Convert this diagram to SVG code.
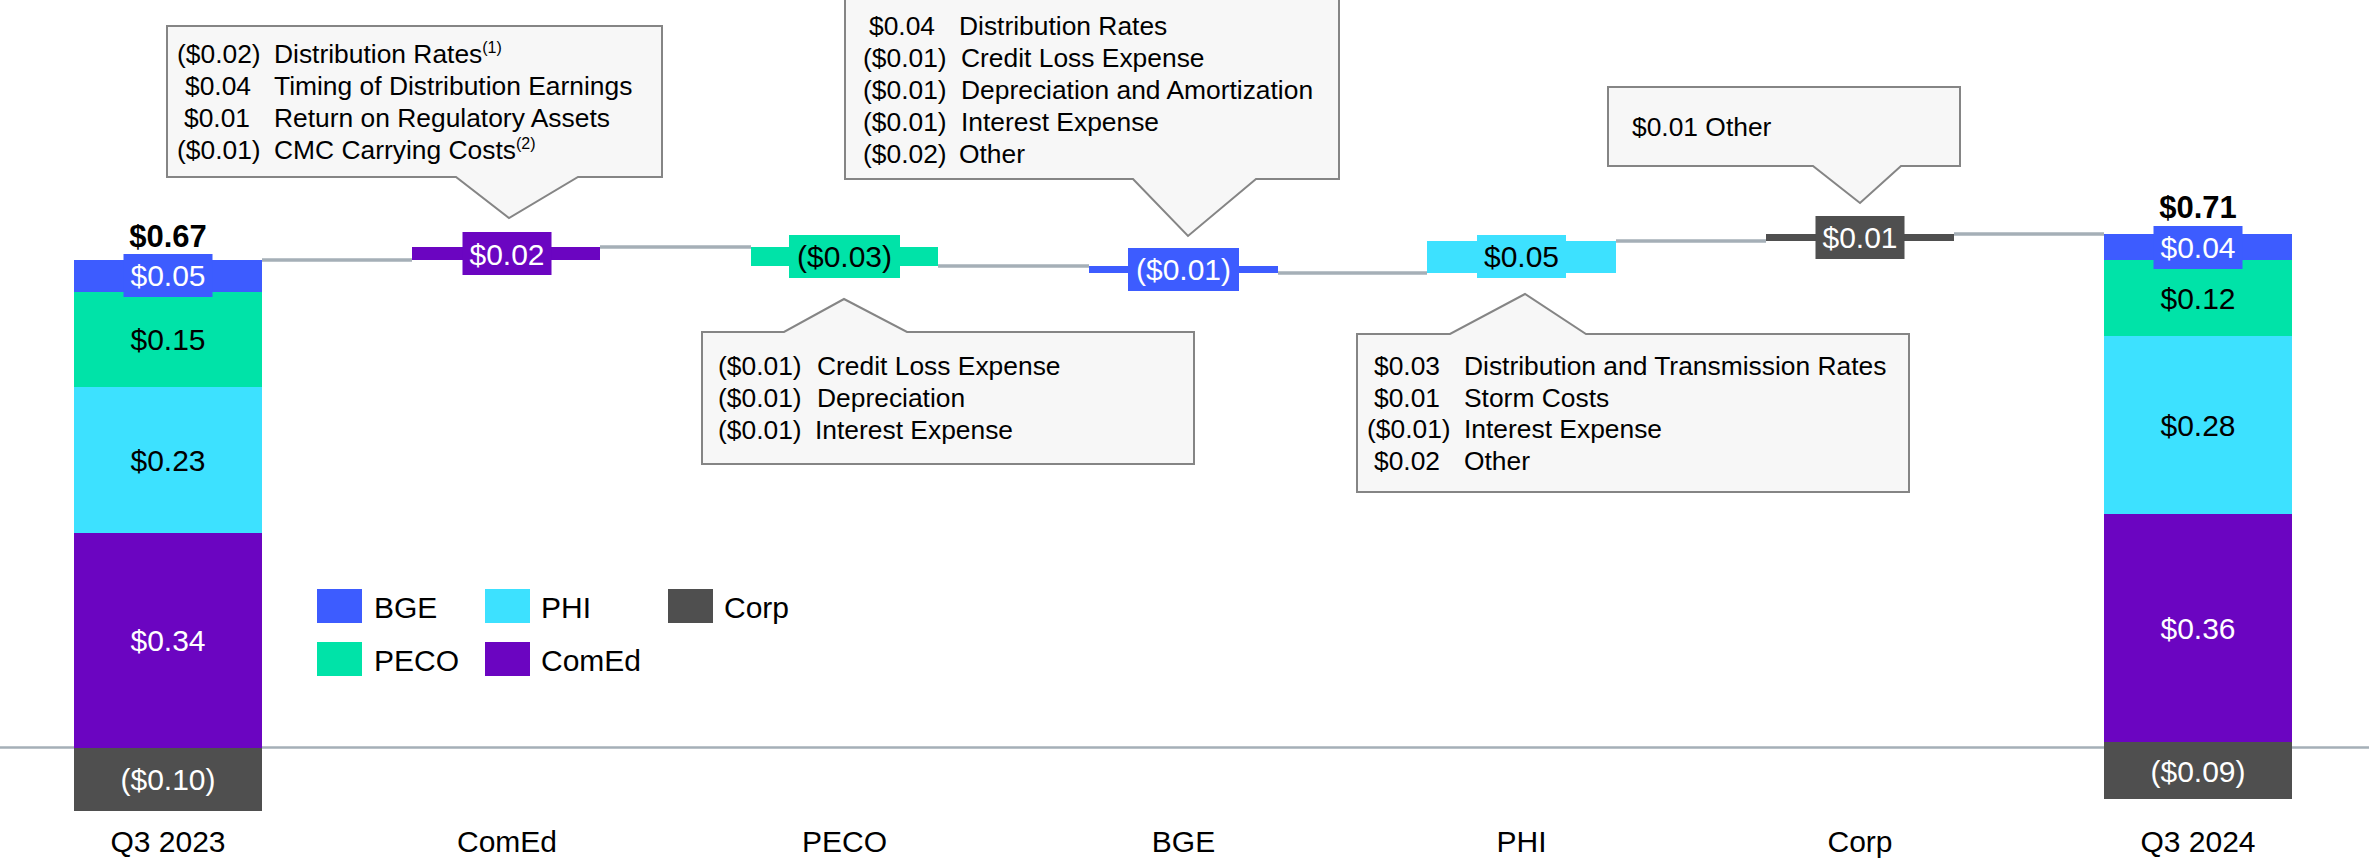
<svg xmlns="http://www.w3.org/2000/svg" width="2369" height="860" viewBox="0 0 2369 860">
<style>
text{font-family:"Liberation Sans",Arial,sans-serif;}
.lbl{font-size:30px;text-anchor:middle;}
.w{fill:#FFFFFF;}
.k{fill:#000000;}
.tot{font-size:31px;font-weight:bold;text-anchor:middle;fill:#000;}
.cat{font-size:30px;text-anchor:middle;fill:#000;}
.leg{font-size:30px;fill:#000;}
.co{fill:#F7F7F7;stroke:#858585;stroke-width:2;}
.ct{font-size:26.4px;fill:#000;}
.sup{font-size:16px;}
.bge{fill:#3D5CFF;}
.peco{fill:#00E3A8;}
.phi{fill:#3DE1FF;}
.comed{fill:#6B05C1;}
.corp{fill:#4F4F4F;}
.conn{stroke:#A5AFB7;stroke-width:3.5;fill:none;}
.axis{stroke:#A5AFB7;stroke-width:2.5;fill:none;}
</style>

<line class="axis" x1="0" y1="747.5" x2="2369" y2="747.5"/>

<g id="connectors">
<line class="conn" x1="262" y1="260" x2="412" y2="260"/>
<line class="conn" x1="600" y1="247" x2="751" y2="247"/>
<line class="conn" x1="938" y1="266" x2="1089" y2="266"/>
<line class="conn" x1="1278" y1="273" x2="1427" y2="273"/>
<line class="conn" x1="1616" y1="241" x2="1766" y2="241"/>
<line class="conn" x1="1954" y1="234" x2="2104" y2="234"/>
</g>

<g id="q3-2023">
<rect class="bge" x="74" y="260" width="188" height="32"/>
<rect class="peco" x="74" y="292" width="188" height="95"/>
<rect class="phi" x="74" y="387" width="188" height="146"/>
<rect class="comed" x="74" y="533" width="188" height="215"/>
<rect class="corp" x="74" y="748" width="188" height="63"/>
<rect class="bge" x="123.5" y="254" width="89" height="43"/>
<text class="lbl w" x="168" y="286">$0.05</text>
<text class="lbl k" x="168" y="350">$0.15</text>
<text class="lbl k" x="168" y="471">$0.23</text>
<text class="lbl w" x="168" y="651">$0.34</text>
<text class="lbl w" x="168" y="790">($0.10)</text>
<text class="tot" x="168" y="247">$0.67</text>
<text class="cat" x="168" y="852">Q3 2023</text>
</g>

<g id="comed">
<rect class="comed" x="412" y="247" width="188" height="13"/>
<rect class="comed" x="462.5" y="232" width="89" height="43"/>
<text class="lbl w" x="507" y="264.5">$0.02</text>
<text class="cat" x="507" y="852">ComEd</text>
</g>

<g id="peco">
<rect class="peco" x="751" y="247" width="187" height="19"/>
<rect class="peco" x="789" y="235" width="111" height="43"/>
<text class="lbl k" x="844.5" y="267">($0.03)</text>
<text class="cat" x="844.5" y="852">PECO</text>
</g>

<g id="bge">
<rect class="bge" x="1089" y="266" width="189" height="7"/>
<rect class="bge" x="1128" y="248" width="111" height="43"/>
<text class="lbl w" x="1183.5" y="280">($0.01)</text>
<text class="cat" x="1183.5" y="852">BGE</text>
</g>

<g id="phi">
<rect class="phi" x="1427" y="241" width="189" height="32"/>
<rect class="phi" x="1477" y="235" width="89" height="43"/>
<text class="lbl k" x="1521.5" y="267">$0.05</text>
<text class="cat" x="1521.5" y="852">PHI</text>
</g>

<g id="corp">
<rect class="corp" x="1766" y="234" width="188" height="7"/>
<rect class="corp" x="1815.5" y="216" width="89" height="43"/>
<text class="lbl w" x="1860" y="248">$0.01</text>
<text class="cat" x="1860" y="852">Corp</text>
</g>

<g id="q3-2024">
<rect class="bge" x="2104" y="234" width="188" height="26"/>
<rect class="peco" x="2104" y="260" width="188" height="76"/>
<rect class="phi" x="2104" y="336" width="188" height="178"/>
<rect class="comed" x="2104" y="514" width="188" height="228"/>
<rect class="corp" x="2104" y="742" width="188" height="57"/>
<rect class="bge" x="2153.5" y="226" width="89" height="43"/>
<text class="lbl w" x="2198" y="258">$0.04</text>
<text class="lbl k" x="2198" y="309">$0.12</text>
<text class="lbl k" x="2198" y="436">$0.28</text>
<text class="lbl w" x="2198" y="639">$0.36</text>
<text class="lbl w" x="2198" y="782">($0.09)</text>
<text class="tot" x="2198" y="218">$0.71</text>
<text class="cat" x="2198" y="852">Q3 2024</text>
</g>

<g id="callout-comed">
<path class="co" d="M167,26 H662 V177 H578 L509,218 L456,177 H167 Z"/>
<text class="ct" x="177" y="63">($0.02)</text>
<text class="ct" x="274" y="63">Distribution Rates<tspan class="sup" dy="-10">(1)</tspan></text>
<text class="ct" x="185" y="95">$0.04</text>
<text class="ct" x="274" y="95">Timing of Distribution Earnings</text>
<text class="ct" x="184" y="127">$0.01</text>
<text class="ct" x="274" y="127">Return on Regulatory Assets</text>
<text class="ct" x="177" y="159">($0.01)</text>
<text class="ct" x="274" y="159">CMC Carrying Costs<tspan class="sup" dy="-10">(2)</tspan></text>
</g>

<g id="callout-peco">
<path class="co" d="M702,332 H784 L844,299 L907,332 H1194 V464 H702 Z"/>
<text class="ct" x="718" y="375">($0.01)</text>
<text class="ct" x="817" y="375">Credit Loss Expense</text>
<text class="ct" x="718" y="407">($0.01)</text>
<text class="ct" x="817" y="407">Depreciation</text>
<text class="ct" x="718" y="439">($0.01)</text>
<text class="ct" x="815" y="439">Interest Expense</text>
</g>

<g id="callout-bge">
<path class="co" d="M845,-2 H1339 V179 H1256 L1188,236 L1133,179 H845 Z"/>
<text class="ct" x="869" y="35">$0.04</text>
<text class="ct" x="959" y="35">Distribution Rates</text>
<text class="ct" x="863" y="67">($0.01)</text>
<text class="ct" x="961" y="67">Credit Loss Expense</text>
<text class="ct" x="863" y="99">($0.01)</text>
<text class="ct" x="961" y="99">Depreciation and Amortization</text>
<text class="ct" x="863" y="131">($0.01)</text>
<text class="ct" x="961" y="131">Interest Expense</text>
<text class="ct" x="863" y="163">($0.02)</text>
<text class="ct" x="959" y="163">Other</text>
</g>

<g id="callout-phi">
<path class="co" d="M1357,334 H1450 L1525,294 L1586,334 H1909 V492 H1357 Z"/>
<text class="ct" x="1374" y="375">$0.03</text>
<text class="ct" x="1464" y="375">Distribution and Transmission Rates</text>
<text class="ct" x="1374" y="407">$0.01</text>
<text class="ct" x="1464" y="407">Storm Costs</text>
<text class="ct" x="1367" y="438">($0.01)</text>
<text class="ct" x="1464" y="438">Interest Expense</text>
<text class="ct" x="1374" y="470">$0.02</text>
<text class="ct" x="1464" y="470">Other</text>
</g>

<g id="callout-corp">
<path class="co" d="M1608,87 H1960 V166 H1901 L1860,203 L1813,166 H1608 Z"/>
<text class="ct" x="1632" y="136">$0.01 Other</text>
</g>

<g id="legend">
<rect class="bge" x="317" y="589" width="45" height="34"/>
<text class="leg" x="374" y="618">BGE</text>
<rect class="phi" x="485" y="589" width="45" height="34"/>
<text class="leg" x="541" y="618">PHI</text>
<rect class="corp" x="668" y="589" width="45" height="34"/>
<text class="leg" x="724" y="618">Corp</text>
<rect class="peco" x="317" y="642" width="45" height="34"/>
<text class="leg" x="374" y="671">PECO</text>
<rect class="comed" x="485" y="642" width="45" height="34"/>
<text class="leg" x="541" y="671">ComEd</text>
</g>
</svg>
